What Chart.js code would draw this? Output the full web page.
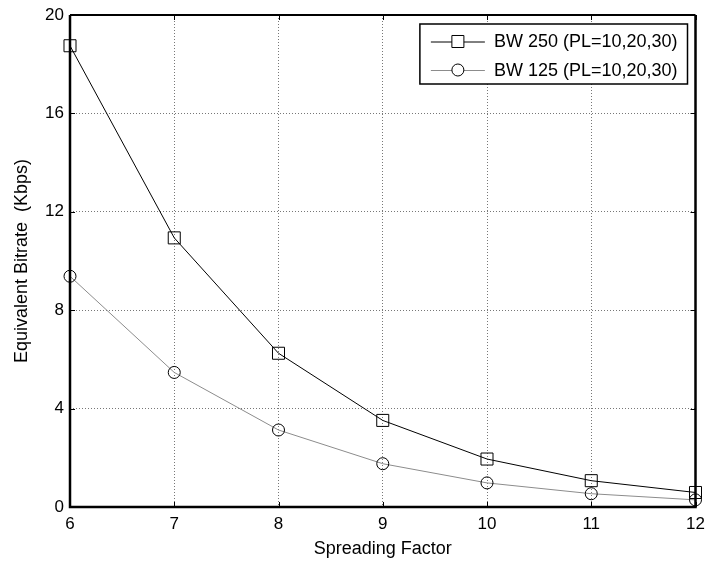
<!DOCTYPE html>
<html>
<head>
<meta charset="utf-8">
<script src="https://cdn.jsdelivr.net/npm/chart.js@4/dist/chart.umd.min.js"></script>
<style>
html,body{margin:0;padding:0;background:#fff;}
#wrap{width:705px;height:563px;position:relative;}
</style>
</head>
<body>
<div id="wrap"><canvas id="c" width="705" height="563"></canvas></div>
<script>
const spreadingFactors = [6, 7, 8, 9, 10, 11, 12];
const bw250 = [18.75, 10.94, 6.25, 3.52, 1.95, 1.07, 0.59];
const bw125 = [9.38, 5.47, 3.13, 1.76, 0.98, 0.54, 0.29];
const seriesLabels = ['BW 250 (PL=10,20,30)', 'BW 125 (PL=10,20,30)'];
const xTitle = 'Spreading Factor';
const yTitle = 'Equivalent Bitrate  (Kbps)';

const FONT = "'Liberation Sans', Arial, sans-serif";

const boxPlugin = {
  id: 'boxPlugin',
  afterDatasetsDraw(chart) {
    const ctx = chart.ctx, a = chart.chartArea;
    const xs = chart.scales.x, ys = chart.scales.y;
    ctx.save();
    ctx.strokeStyle = '#000';
    ctx.lineWidth = 1;
    ctx.beginPath();
    xs.ticks.forEach(t => {
      const px = Math.round(xs.getPixelForValue(t.value)) + 0.5;
      ctx.moveTo(px, a.bottom); ctx.lineTo(px, a.bottom - 5);
      ctx.moveTo(px, a.top); ctx.lineTo(px, a.top + 5);
    });
    ys.ticks.forEach(t => {
      const py = Math.round(ys.getPixelForValue(t.value)) + 0.5;
      ctx.moveTo(a.left, py); ctx.lineTo(a.left + 5, py);
      ctx.moveTo(a.right, py); ctx.lineTo(a.right - 5, py);
    });
    ctx.stroke();
    ctx.lineWidth = 2.5;
    ctx.beginPath();
    ctx.moveTo(a.left, a.top); ctx.lineTo(a.left, a.bottom); ctx.lineTo(a.right, a.bottom); ctx.lineTo(a.right, a.top);
    ctx.stroke();
    ctx.lineWidth = 2;
    ctx.beginPath();
    ctx.moveTo(a.left, a.top); ctx.lineTo(a.right, a.top);
    ctx.stroke();

    const ds = chart.data.datasets;
    ctx.font = '18px ' + FONT;
    let tw = 0;
    ds.forEach(d => { tw = Math.max(tw, ctx.measureText(d.label).width); });
    const padL = 11, lineLen = 54, gap = 9, padR = 10, rowH = 28.5;
    const w = padL + lineLen + gap + tw + padR;
    const h = 60;
    const right = a.right - 8, top = a.top + 9;
    const left = right - w;
    ctx.fillStyle = '#fff';
    ctx.fillRect(left, top, w, h);
    ctx.lineWidth = 1.5;
    ctx.strokeStyle = '#000';
    ctx.strokeRect(left, top, w, h);
    ds.forEach((d, i) => {
      const cy = top + 17.5 + i * rowH;
      ctx.strokeStyle = d.borderColor;
      ctx.lineWidth = 1;
      ctx.beginPath();
      ctx.moveTo(left + padL, cy + 0.5); ctx.lineTo(left + padL + lineLen, cy + 0.5);
      ctx.stroke();
      ctx.fillStyle = '#fff';
      ctx.strokeStyle = d.pointBorderColor;
      Chart.helpers.drawPoint(ctx, {pointStyle: d.pointStyle, rotation: 0, borderWidth: 1, radius: d.pointRadius}, left + padL + lineLen / 2, cy);
      ctx.fillStyle = '#000';
      ctx.textBaseline = 'middle';
      ctx.textAlign = 'left';
      ctx.fillText(d.label, left + padL + lineLen + gap, cy + 1);
    });
    ctx.restore();
  }
};

new Chart(document.getElementById('c'), {
  type: 'line',
  data: {
    datasets: [
      {
        label: seriesLabels[0],
        data: spreadingFactors.map((x, i) => ({x: x, y: bw250[i]})),
        borderColor: '#000',
        borderWidth: 1,
        pointStyle: 'rect',
        pointRadius: 8.5,
        pointBorderColor: '#000',
        pointBackgroundColor: 'rgba(0,0,0,0)',
        pointBorderWidth: 1,
        tension: 0,
        clip: false
      },
      {
        label: seriesLabels[1],
        data: spreadingFactors.map((x, i) => ({x: x, y: bw125[i]})),
        borderColor: '#8c8c8c',
        borderWidth: 1,
        pointStyle: 'circle',
        pointRadius: 6,
        pointBorderColor: '#000',
        pointBackgroundColor: 'rgba(0,0,0,0)',
        pointBorderWidth: 1,
        tension: 0,
        clip: false
      }
    ]
  },
  options: {
    responsive: false,
    animation: false,
    devicePixelRatio: 1,
    layout: {padding: {top: 15, right: 9, left: 0, bottom: 0}},
    plugins: {legend: {display: false}, tooltip: {enabled: false}},
    scales: {
      x: {
        type: 'linear', min: 6, max: 12,
        ticks: {stepSize: 1, color: '#000', font: {family: FONT, size: 17}, padding: 7, maxRotation: 0},
        grid: {color: '#777', lineWidth: 1, drawTicks: false},
        border: {display: false, dash: [1, 2]},
        title: {display: true, text: xTitle, color: '#000', font: {family: FONT, size: 18}, padding: {top: 0, bottom: 3}},
        afterFit(s) { s.height = 56; s.paddingLeft = 0; s.paddingRight = 0; }
      },
      y: {
        type: 'linear', min: 0, max: 20,
        ticks: {stepSize: 4, color: '#000', font: {family: FONT, size: 17}, padding: 6},
        grid: {color: '#777', lineWidth: 1, drawTicks: false},
        border: {display: false, dash: [1, 2]},
        title: {display: true, text: yTitle, color: '#000', font: {family: FONT, size: 18}, padding: {top: 11, bottom: 0}},
        afterFit(s) { s.width = 70; s.paddingTop = 0; s.paddingBottom = 0; }
      }
    }
  },
  plugins: [boxPlugin]
});
</script>
</body>
</html>
